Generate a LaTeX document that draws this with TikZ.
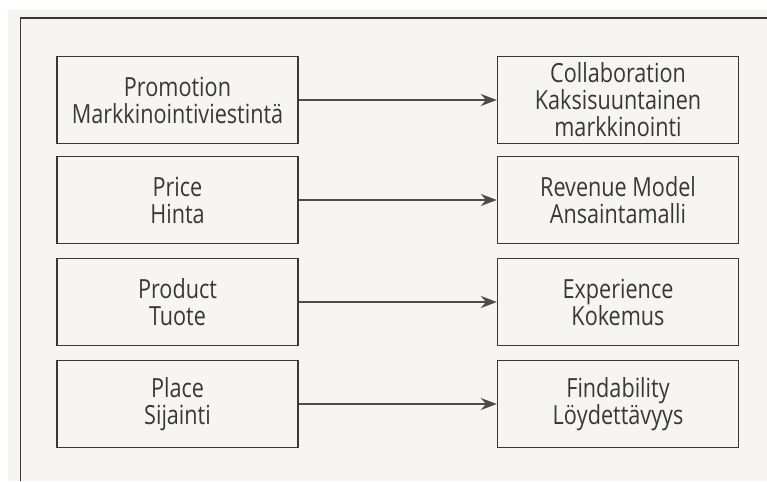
\documentclass[tikz,border=0pt]{standalone}
\usepackage{fontspec}
\setmainfont{Open Sans}[FakeStretch=0.82]
\usetikzlibrary{arrows.meta}
\usepackage{xcolor}
\definecolor{paper}{HTML}{F6F5F1}
\definecolor{ink}{HTML}{383838}
\tikzset{
  box/.style={draw=ink, line width=0.8pt, minimum width=4.82cm, minimum height=1.74cm,
    inner sep=0pt, align=center, text=ink, font=\fontsize{15}{15.4}\selectfont},
  link/.style={draw=ink!90, line width=1pt, -{Stealth[length=0.32cm,width=0.24cm]}}
}
\begin{document}
\begin{tikzpicture}
\useasboundingbox (0,0) rectangle (15.34,9.62);
% paper
\fill[white] (0,0) rectangle (15.34,9.62);
\fill[paper] (0.16,0) rectangle (15.34,9.44);
% frame
\draw[ink,line width=0.8pt] (0.41,0) -- (0.41,9.26) -- (15.34,9.26);
% old model
\node[box] (promo) at (3.55,7.62) {Promotion\\Markkinointiviestintä};
\node[box] (price) at (3.55,5.62) {Price\\Hinta};
\node[box] (product) at (3.55,3.58) {Product\\Tuote};
\node[box] (place) at (3.55,1.54) {Place\\Sijainti};
% new model
\node[box] (collab) at (12.36,7.62) {Collaboration\\Kaksisuuntainen\\markkinointi};
\node[box] (revenue) at (12.36,5.62) {Revenue Model\\Ansaintamalli};
\node[box] (experience) at (12.36,3.58) {Experience\\Kokemus};
\node[box] (findability) at (12.36,1.54) {Findability\\Löydettävyys};
% arrows
\foreach \a/\b in {promo/collab,price/revenue,product/experience,place/findability}
  \draw[link] (\a) -- (\b);
\end{tikzpicture}
\end{document}
